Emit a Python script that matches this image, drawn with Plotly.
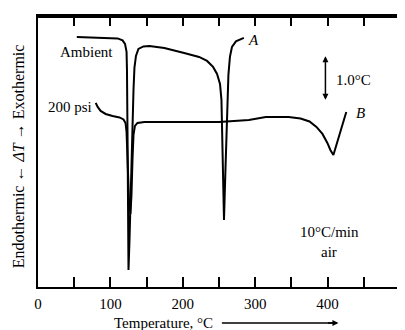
import plotly.graph_objects as go

# ---- data (temperature in °C, ΔT in °C relative units) ----
ambient_T = [53.6, 85.2, 109.9, 116.8, 120.2, 122.3, 122.9, 123.6, 124.3, 125.0, 126.4, 128.4,
             130.5, 131.9, 133.2, 135.3, 138.7, 145.6, 153.8, 174.5, 201.9, 222.5, 233.5, 241.8,
             247.3, 251.4, 253.4, 254.8, 256.9, 258.9, 261.0, 263.0, 265.1, 267.9, 273.4, 284.3]
ambient_dT = [5.556, 5.544, 5.522, 5.478, 5.40, 5.222, 4.822, 3.489, 1.933, 0.378, 1.044, 2.378,
              3.711, 4.378, 4.867, 5.133, 5.289, 5.344, 5.356, 5.311, 5.20, 5.111, 5.022, 4.889,
              4.733, 4.511, 4.156, 3.044, 1.489, 2.60, 3.933, 4.711, 5.111, 5.333, 5.456, 5.533]

psi200_T = [79.7, 82.4, 86.5, 93.4, 103.0, 112.6, 118.1, 120.9, 122.3, 123.6, 125.7, 127.7,
            129.1, 130.5, 131.9, 133.9, 137.4, 147.0, 195.1, 250.0, 291.2, 314.6, 346.2, 362.6,
            375.0, 384.6, 392.9, 399.7, 403.8, 408.0, 425.8]
psi200_dT = [4.089, 4.0, 3.911, 3.844, 3.80, 3.767, 3.722, 3.644, 3.444, 2.822, 1.933, 1.622,
             2.044, 2.822, 3.378, 3.578, 3.644, 3.667, 3.667, 3.667, 3.711, 3.778, 3.778, 3.744,
             3.678, 3.556, 3.40, 3.20, 3.044, 2.933, 3.889]

tick_vals = [0, 50, 100, 150, 200, 250, 300, 350, 400, 450]
tick_labels = ["0", "", "100", "", "200", "", "300", "", "400", ""]

FONT = "Liberation Serif, Times New Roman, serif"

fig = go.Figure()
fig.add_trace(go.Scatter(x=ambient_T, y=ambient_dT, mode="lines",
                         line=dict(color="black", width=2), name="Ambient"))
fig.add_trace(go.Scatter(x=psi200_T, y=psi200_dT, mode="lines",
                         line=dict(color="black", width=2), name="200 psi"))

fig.update_layout(
    width=397, height=322, autosize=False,
    margin=dict(l=30, r=3, t=8, b=43),
    paper_bgcolor="white", plot_bgcolor="white",
    showlegend=False,
    font=dict(family=FONT, size=15, color="black"),
    xaxis=dict(range=[0, 500], tickvals=tick_vals, ticktext=tick_labels,
               ticks="inside", ticklen=10, tickwidth=1.5, tickcolor="black",
               showline=True, linewidth=1.5, linecolor="black", mirror="ticks",
               showgrid=False, zeroline=False, ticklabelstandoff=2,
               tickfont=dict(family=FONT, size=15, color="black")),
    yaxis=dict(range=[0, 6.02], showticklabels=False, ticks="",
               showline=True, linewidth=1.5, linecolor="black", mirror=True,
               showgrid=False, zeroline=False),
)

# thicker top and right frame edges
fig.add_shape(type="line", xref="paper", yref="paper", x0=0, x1=1, y0=1, y1=1,
              line=dict(color="black", width=4))
fig.add_shape(type="line", xref="paper", yref="paper", x0=1, x1=1, y0=0, y1=1,
              line=dict(color="black", width=3))

def txt(x, y, s, size=15, **kw):
    fig.add_annotation(x=x, y=y, text=s, showarrow=False, xref="x", yref="y",
                       font=dict(family=FONT, size=size, color="black"), **kw)

txt(67, 5.22, "Ambient")
txt(44, 4.0, "200 psi")
txt(298, 5.49, "<i>A</i>")
txt(445, 3.87, "<i>B</i>")
txt(436, 4.6, "1.0°C")
txt(402, 1.22, "10°C/min")
txt(402, 0.78, "air")

# 1.0 °C scale bar
fig.add_annotation(x=397, y=4.16, ax=397, ay=5.16, xref="x", yref="y", axref="x", ayref="y",
                   text="", showarrow=True, arrowhead=2, arrowside="end+start",
                   arrowsize=0.8, arrowwidth=1.5, arrowcolor="black")

# y-axis label
fig.add_annotation(x=-0.055, y=0.483, xref="paper", yref="paper", showarrow=False,
                   xanchor="center", yanchor="middle",
                   textangle=-90, text="Endothermic ← <i>ΔT</i> → Exothermic",
                   font=dict(family=FONT, size=16, color="black"))

# x-axis title with arrow
fig.add_annotation(x=0.205, y=-0.133, xref="paper", yref="paper", showarrow=False,
                   text="Temperature, °C", xanchor="left", yanchor="middle",
                   font=dict(family=FONT, size=15, color="black"))
fig.add_shape(type="line", xref="paper", yref="paper", x0=0.508, x1=0.825,
              y0=-0.133, y1=-0.133, line=dict(color="black", width=1.5))
fig.add_annotation(x=0.83, y=-0.133, xref="paper", yref="paper", ax=-12, ay=0,
                   text="", showarrow=True, arrowhead=2, arrowsize=0.8,
                   arrowwidth=1.5, arrowcolor="black")

fig.write_html("out.html")
